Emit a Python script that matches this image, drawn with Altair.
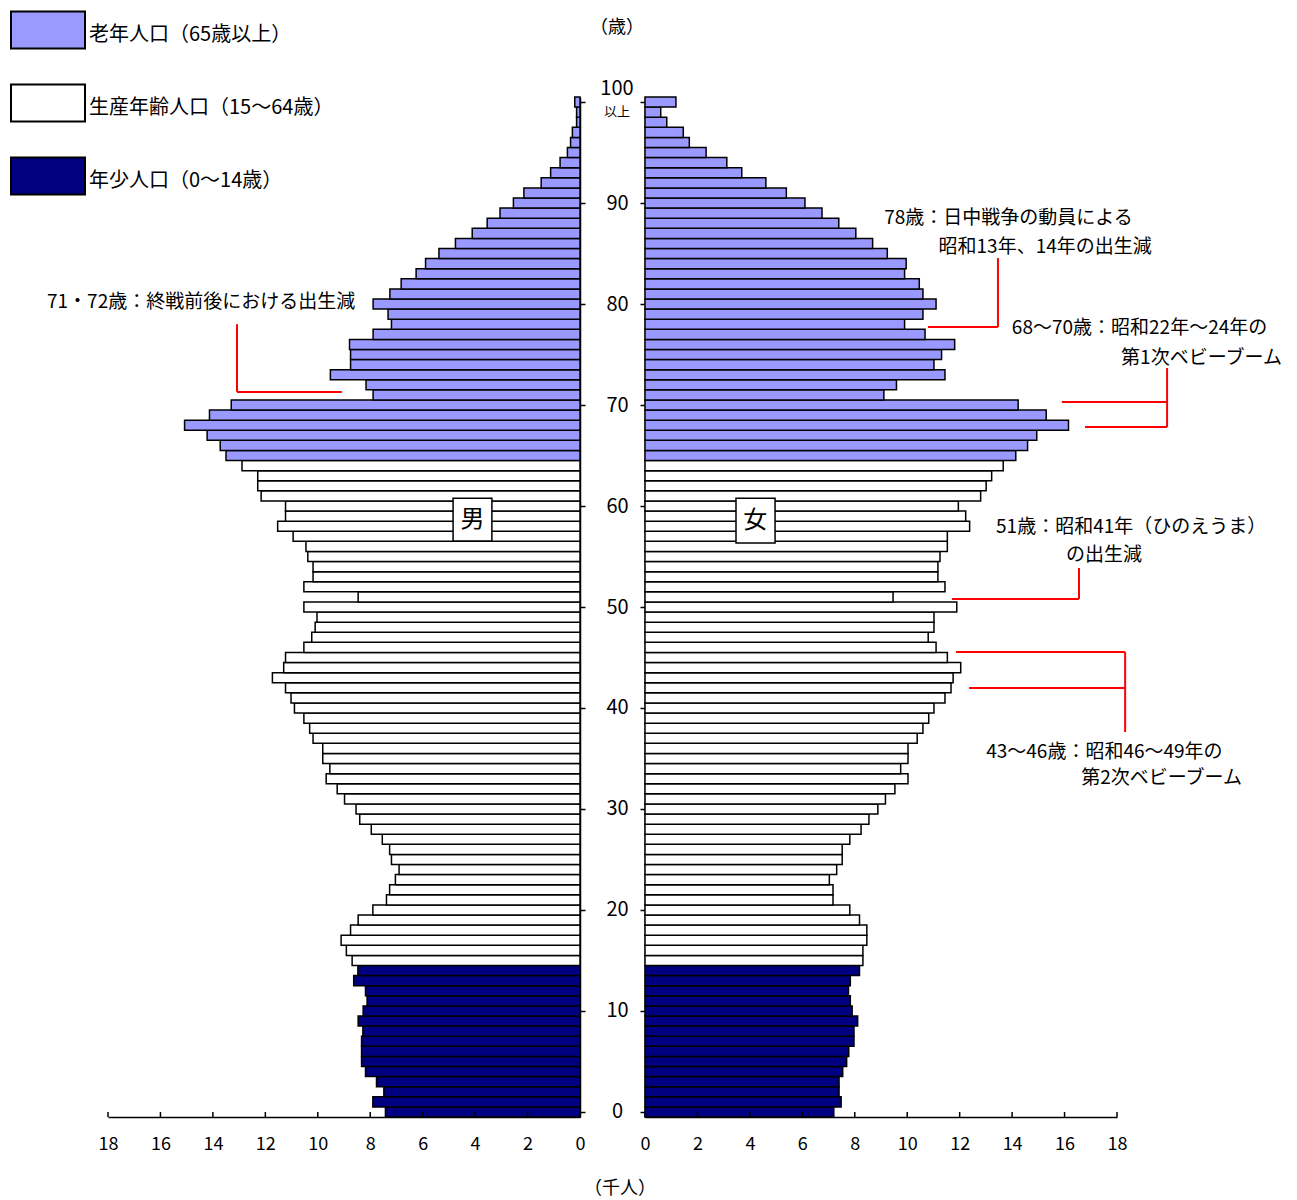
import altair as alt
import pandas as pd

FONT = "Noto Sans CJK JP"

# ---------------- data (thousand persons) ----------------
ages = list(range(0, 101))  # 100 = 100歳以上

male = [
    7.42, 7.90, 7.48, 7.76, 8.18, 8.33, 8.33, 8.33, 8.28, 8.46,   # 0-9
    8.27, 8.12, 8.18, 8.63, 8.47, 8.69, 8.91, 9.11, 8.75, 8.46,   # 10-19
    7.90, 7.38, 7.26, 7.04, 6.90, 7.19, 7.26, 7.54, 7.96, 8.40,   # 20-29
    8.54, 8.98, 9.26, 9.68, 9.54, 9.81, 9.81, 10.18, 10.31, 10.53,  # 30-39
    10.89, 11.02, 11.23, 11.73, 11.30, 11.23, 10.53, 10.23, 10.10, 10.03,  # 40-49
    10.53, 8.46, 10.53, 10.18, 10.18, 10.38, 10.45, 10.94, 11.53, 11.23,  # 50-59
    11.23, 12.16, 12.29, 12.29, 12.89, 13.50, 13.72, 14.22, 15.08, 14.13,  # 60-69
    13.30, 7.89, 8.16, 9.52, 8.75, 8.75, 8.79, 7.89, 7.19, 7.32,   # 70-79
    7.89, 7.25, 6.82, 6.25, 5.89, 5.38, 4.75, 4.11, 3.54, 3.05,    # 80-89
    2.54, 2.14, 1.48, 1.12, 0.76, 0.48, 0.36, 0.29, 0.13, 0.13,    # 90-99
    0.20,                                                          # 100+
]

female = [
    7.20, 7.48, 7.40, 7.40, 7.54, 7.69, 7.77, 7.97, 7.97, 8.11,   # 0-9
    7.90, 7.83, 7.76, 7.83, 8.18, 8.31, 8.31, 8.46, 8.46, 8.18,   # 10-19
    7.81, 7.17, 7.17, 7.03, 7.31, 7.52, 7.52, 7.81, 8.24, 8.54,   # 20-29
    8.88, 9.17, 9.53, 10.03, 9.75, 10.03, 10.03, 10.38, 10.60, 10.82,  # 30-39
    11.02, 11.44, 11.67, 11.75, 12.04, 11.53, 11.10, 10.80, 11.02, 11.02,  # 40-49
    11.89, 9.46, 11.44, 11.17, 11.17, 11.25, 11.53, 11.53, 12.38, 12.23,  # 50-59
    11.95, 12.80, 13.01, 13.22, 13.66, 14.14, 14.59, 14.94, 16.15, 15.30,  # 60-69
    14.23, 9.11, 9.59, 11.44, 11.02, 11.31, 11.81, 10.68, 9.90, 10.60,  # 70-79
    11.10, 10.60, 10.46, 9.90, 9.96, 9.24, 8.68, 8.04, 7.39, 6.75,  # 80-89
    6.10, 5.39, 4.61, 3.69, 3.12, 2.33, 1.69, 1.46, 0.83, 0.60,    # 90-99
    1.18,                                                          # 100+
]

group_names = ["老年人口（65歳以上）", "生産年齢人口（15～64歳）", "年少人口（0～14歳）"]
group_colors = ["#9999FF", "#FFFFFF", "#000080"]
x_ticks = list(range(0, 19, 2))
age_ticks = list(range(0, 101, 10))


def group_of(a):
    if a >= 65:
        return group_names[0]
    if a >= 15:
        return group_names[1]
    return group_names[2]


df = pd.DataFrame({"age": ages, "male": male, "female": female,
                   "grp": [group_of(a) for a in ages]})

W = 472
H = 1020

yscale = alt.Scale(domain=[-0.5, 100.5], nice=False, zero=False)

color = alt.Color(
    "grp:N",
    scale=alt.Scale(domain=group_names, range=group_colors),
    legend=alt.Legend(
        title=None, orient="none", legendX=-98, legendY=-82,
        direction="vertical",
        symbolType="M-1,-1.25H3V0.75H-1Z", symbolSize=1369,
        symbolStrokeColor="black", symbolStrokeWidth=2, symbolOpacity=1,
        labelFont=FONT, labelFontSize=20, labelColor="black",
        labelLimit=600, labelOffset=40, rowPadding=27,
    ),
)


def x_axis():
    return alt.Axis(values=x_ticks, format="d", ticks=False, tickSize=0,
                    labelPadding=18, labelFont=FONT, labelFontSize=18,
                    labelFlush=False, labelOverlap=False,
                    labelColor="black", domainColor="black", domainWidth=1.5,
                    grid=False, title=None)


def bars(field, reverse, yaxis):
    xscale = alt.Scale(domain=[0, 18], reverse=reverse, nice=False, zero=False)
    return alt.Chart(df).transform_calculate(
        lo="datum.age - 0.5", hi="datum.age + 0.5", base="0"
    ).mark_rect(stroke="black", strokeWidth=1.5).encode(
        x=alt.X("base:Q", scale=xscale, axis=x_axis()),
        x2=alt.X2(f"{field}:Q"),
        y=alt.Y("lo:Q", scale=yscale, axis=yaxis),
        y2="hi:Q",
        color=color,
    )


def x_tick_marks():
    return alt.Chart(pd.DataFrame({"v": x_ticks})).mark_rule(
        color="black", strokeWidth=1.5
    ).encode(x=alt.X("v:Q", title=None), y=alt.value(H), y2=alt.value(H - 5))


def notes(rows, size=19):
    d = pd.DataFrame(rows, columns=["t", "x", "y", "align"])
    layers = []
    for al in ["left", "center", "right"]:
        sub = d[d["align"] == al]
        if len(sub) == 0:
            continue
        layers.append(
            alt.Chart(sub).mark_text(font=FONT, fontSize=size, align=al,
                                     baseline="middle", color="black").encode(
                x=alt.X("x:Q", title=None), y=alt.Y("y:Q", title=None), text="t:N")
        )
    return layers


def red_lines(rows):
    d = pd.DataFrame(rows, columns=["x1", "y1", "x2", "y2"])
    return alt.Chart(d).mark_rule(color="#FF0000", strokeWidth=2).encode(
        x=alt.X("x1:Q", title=None), x2="x2:Q",
        y=alt.Y("y1:Q", title=None), y2="y2:Q")


def sex_box(x1, x2, y1, y2, label, xc, yc):
    box = alt.Chart(pd.DataFrame({"k": [0]})).mark_rect(
        fill="white", stroke="black", strokeWidth=1.5
    ).encode(x=alt.datum(x1), x2=alt.datum(x2), y=alt.datum(y1), y2=alt.datum(y2))
    txt = alt.Chart(pd.DataFrame({"t": [label]})).mark_text(
        font=FONT, fontSize=24, color="black", baseline="middle", align="center"
    ).encode(x=alt.datum(xc), y=alt.datum(yc), text="t:N")
    return [box, txt]


male_yaxis = alt.Axis(
    orient="right", values=age_ticks,
    labelExpr="datum.value == 100 ? '' : datum.label",
    tickSize=5, tickColor="black", tickWidth=1.5,
    labelAlign="center", labelBaseline="middle", labelPadding=32,
    labelFont=FONT, labelFontSize=20, labelColor="black",
    domainColor="black", domainWidth=1.5, grid=False, title=None,
)
female_yaxis = alt.Axis(
    orient="left", values=age_ticks, labels=False,
    tickSize=5, tickColor="black", tickWidth=1.5,
    domainColor="black", domainWidth=1.5, grid=False, title=None,
)

# fixed texts around the central age axis (pixel positions in male panel)
center_texts = [
    alt.Chart(pd.DataFrame({"t": ["100"]})).mark_text(
        font=FONT, fontSize=20, color="black", dy=-13).encode(
        x=alt.value(509), y=alt.datum(100), text="t:N"),
    alt.Chart(pd.DataFrame({"t": ["以上"]})).mark_text(
        font=FONT, fontSize=13, color="black", dy=10).encode(
        x=alt.value(509), y=alt.datum(100), text="t:N"),
    alt.Chart(pd.DataFrame({"t": ["（歳）"]})).mark_text(
        font=FONT, fontSize=18, color="black").encode(
        x=alt.value(509), y=alt.value(-69), text="t:N"),
    alt.Chart(pd.DataFrame({"t": ["（千人）"]})).mark_text(
        font=FONT, fontSize=18, color="black").encode(
        x=alt.value(512), y=alt.value(1092), text="t:N"),
]

male_panel = alt.layer(
    bars("male", True, male_yaxis),
    x_tick_marks(),
    red_lines([(13.08, 78.0, 13.08, 71.3), (13.08, 71.3, 9.08, 71.3)]),
    *notes([("71・72歳：終戦前後における出生減", 14.45, 80.2, "center")]),
    *sex_box(4.84, 3.36, 60.76, 56.53, "男", 4.1, 58.6),
    *center_texts,
).properties(width=W, height=H, view=alt.ViewBackground(stroke="transparent", strokeWidth=0))

female_panel = alt.layer(
    bars("female", False, female_yaxis),
    x_tick_marks(),
    red_lines([
        (13.46, 84.55, 13.46, 77.72), (10.79, 77.72, 13.46, 77.72),
        (19.91, 73.66, 19.91, 67.82), (15.90, 70.30, 19.91, 70.30),
        (16.78, 67.82, 19.91, 67.82),
        (16.55, 53.86, 16.55, 50.79), (11.71, 50.79, 16.55, 50.79),
        (11.86, 45.54, 18.31, 45.54), (12.36, 41.98, 18.31, 41.98),
        (18.31, 45.54, 18.31, 37.62),
    ]),
    *notes([
        ("78歳：日中戦争の動員による", 13.86, 88.5, "center"),
        ("昭和13年、14年の出生減", 15.26, 85.6, "center"),
        ("68～70歳：昭和22年～24年の", 18.86, 77.6, "center"),
        ("第1次ベビーブーム", 24.29, 74.65, "right"),
        ("51歳：昭和41年（ひのえうま）", 18.54, 57.9, "center"),
        ("の出生減", 17.50, 55.15, "center"),
        ("43～46歳：昭和46～49年の", 17.52, 35.65, "center"),
        ("第2次ベビーブーム", 19.70, 33.07, "center"),
    ]),
    *sex_box(3.47, 4.96, 60.76, 56.34, "女", 4.2, 58.55),
).properties(width=W, height=H, view=alt.ViewBackground(stroke="transparent", strokeWidth=0))

chart = alt.hconcat(
    male_panel, female_panel, spacing=65, bounds="flush"
).resolve_scale(
    x="independent", y="independent", color="shared"
).properties(
    padding={"left": 2, "top": 7, "right": 2, "bottom": 2}
).configure_view(stroke="transparent", strokeWidth=0).configure_axis(
    grid=False).configure(font=FONT, background="white")

chart.save("out.html", embed_options={"renderer": "svg", "actions": False})
